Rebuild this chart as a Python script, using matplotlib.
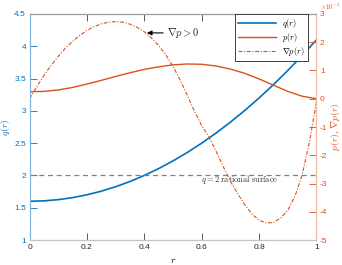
import matplotlib
matplotlib.use("Agg")
import matplotlib.pyplot as plt

plt.rcParams["mathtext.fontset"] = "cm"
plt.rcParams["font.family"] = ["Liberation Sans", "DejaVu Sans"]

# perfil de seguridad q(r)
r_q = [0.00, 0.05, 0.10, 0.15, 0.20, 0.25, 0.30, 0.35, 0.40, 0.45, 0.50,
       0.55, 0.60, 0.65, 0.70, 0.75, 0.80, 0.85, 0.90, 0.95, 1.00]
q_vals = [1.600, 1.606, 1.625, 1.656, 1.700, 1.756, 1.825, 1.906, 2.000, 2.106, 2.225,
          2.356, 2.500, 2.656, 2.825, 3.006, 3.200, 3.406, 3.625, 3.856, 4.100]

# presion p(r), en unidades de 1e-3
p_vals = [0.25, 0.26, 0.31, 0.40, 0.52, 0.65, 0.79, 0.92, 1.04, 1.13, 1.20,
          1.23, 1.22, 1.16, 1.05, 0.90, 0.70, 0.48, 0.26, 0.09, 0.00]

# gradiente de presion, en unidades de 1e-3
r_dp = [0.000, 0.025, 0.050, 0.075, 0.100, 0.125, 0.150, 0.175, 0.200, 0.225,
        0.250, 0.275, 0.300, 0.325, 0.350, 0.375, 0.400, 0.425, 0.450, 0.475,
        0.500, 0.525, 0.550, 0.575, 0.600, 0.625, 0.650, 0.675, 0.700, 0.725,
        0.750, 0.775, 0.800, 0.825, 0.850, 0.875, 0.900, 0.925, 0.950, 0.975, 1.000]
dp_vals = [0.00, 0.42, 0.82, 1.18, 1.50, 1.79, 2.03, 2.24, 2.42, 2.55,
           2.65, 2.71, 2.73, 2.71, 2.64, 2.53, 2.37, 2.15, 1.88, 1.55,
           1.15, 0.66, 0.12, -0.45, -0.95, -1.35, -1.85, -2.40, -2.92, -3.35,
           -3.75, -4.08, -4.30, -4.40, -4.38, -4.22, -3.95, -3.45, -2.70, -1.55, -0.10]

x_ticks = [0, 0.2, 0.4, 0.6, 0.8, 1]
x_ticklabels = ["0", "0.2", "0.4", "0.6", "0.8", "1"]
q_ticks = [1, 1.5, 2, 2.5, 3, 3.5, 4, 4.5]
q_ticklabels = ["1", "1.5", "2", "2.5", "3", "3.5", "4", "4.5"]
p_ticks = [-5, -4, -3, -2, -1, 0, 1, 2, 3]
p_ticklabels = ["-5", "-4", "-3", "-2", "-1", "0", "1", "2", "3"]
q_racional = 2

AZUL = "#0072BD"
NARANJA = "#D95319"
RAYA_PUNTO = (0, (3.5, 1.5, 1, 1.5))

fig = plt.figure(figsize=(3.42, 2.65), dpi=100)
ax = fig.add_axes([0.0863, 0.0943, 0.8391, 0.8529])
ax2 = ax.twinx()

# q(r) y superficie racional en el eje izquierdo
lq, = ax.plot(r_q, q_vals, color=AZUL, lw=1.2, label=r"$q(r)$")
ax.plot([0, 1], [q_racional, q_racional], color="#808080", ls=(0, (4, 3)), lw=0.9)
ax.text(0.733, 1.935, r"$q=2$ $\mathrm{rational\ surface}$", fontsize=6,
        ha="center", va="center", color="#333333")

# p(r) y gradiente en el eje derecho
lp, = ax2.plot(r_q, p_vals, color=NARANJA, lw=1.0, label=r"$p(r)$")
ldp, = ax2.plot(r_dp, dp_vals, color=NARANJA, lw=0.8, ls=RAYA_PUNTO,
                label=r"$\nabla p(r)$")

ax2.annotate(r"$\nabla p>0$", xy=(0.409, 2.33), xytext=(0.48, 2.33),
             fontsize=7.5, va="center", ha="left", color="#262626",
             arrowprops=dict(arrowstyle="-|>", color="black", lw=0.8,
                             mutation_scale=7, shrinkA=1, shrinkB=0))

ax.set_xlim(0, 1)
ax.set_ylim(1, 4.5)
ax2.set_ylim(-5, 3)

ax.set_xticks(x_ticks)
ax.set_xticklabels(x_ticklabels)
ax.set_yticks(q_ticks)
ax.set_yticklabels(q_ticklabels)
ax2.set_yticks(p_ticks)
ax2.set_yticklabels(p_ticklabels)

ax.tick_params(axis="x", direction="in", length=5, width=0.6, colors="#404040",
               labelsize=6, pad=3, top=True, labelcolor="#262626")
ax.tick_params(axis="y", direction="in", length=5, width=0.6, colors=AZUL,
               labelsize=6, pad=2.5)
ax2.tick_params(axis="y", direction="in", length=5, width=0.6, colors=NARANJA,
                labelsize=6, pad=2.5)

for a in (ax, ax2):
    a.spines["top"].set_color("#9a9a9a")
    a.spines["bottom"].set_color("#c4c4c4")
    a.spines["left"].set_color("#7fb3e0")
    a.spines["right"].set_color("#f2b8a0")
    for s in a.spines.values():
        s.set_linewidth(0.8)

ax.set_xlabel(r"$r$", fontsize=7)
ax.xaxis.set_label_coords(0.5, -0.065)
ax.set_ylabel(r"$q(r)$", fontsize=7, color=AZUL)
ax.yaxis.set_label_coords(-0.062, 0.5)
ax2.set_ylabel(r"$p(r)$, $\nabla p(r)$", fontsize=7, color=NARANJA)
ax2.yaxis.set_label_coords(1.043, 0.5)

fig.text(0.935, 0.994, r"$\times10^{-3}$", fontsize=5, color=NARANJA,
         ha="left", va="top")

leg = ax2.legend(handles=[lq, lp, ldp], loc="upper right",
                 bbox_to_anchor=(0.97, 1.0), fontsize=6, frameon=True,
                 fancybox=False, framealpha=1, edgecolor="#404040",
                 borderpad=0.35, labelspacing=0.15, handlelength=4.5,
                 handletextpad=0.8, borderaxespad=0)
leg.get_frame().set_linewidth(0.7)

fig.savefig("out.png", dpi=100)
